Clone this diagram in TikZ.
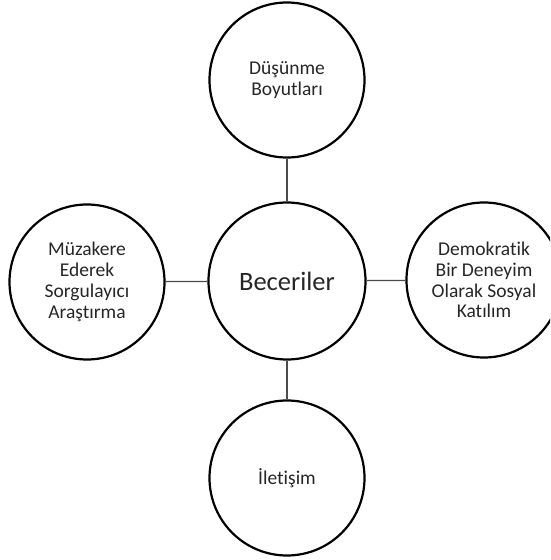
\documentclass[tikz,border=0pt]{standalone}
\usepackage{fontspec}
\setmainfont[RawFeature={-liga;-clig}]{Carlito}
\begin{document}
\begin{tikzpicture}[x=1pt,y=1pt,
  bubble/.style={circle,draw=black,line width=2.2pt,inner sep=0pt,minimum size=155pt,
    align=center,text=black!85,font=\fontsize{19.5}{20.8}\selectfont},
  hub/.style={bubble,minimum size=157pt,font=\fontsize{26.5}{30}\selectfont},
  link/.style={draw=black!70,line width=1.3pt}]
\useasboundingbox (0,0) rectangle (550,560);
\clip (0,0) rectangle (550,560);
\node[hub] (c) at (287,279) {Beceriler};
\node[bubble] (t) at (287,480) {Düşünme\\Boyutları};
\node[bubble] (b) at (287,82) {İletişim};
\node[bubble] (l) at (87,278) {Müzakere\\Ederek\\Sorgulayıcı\\Araştırma};
\node[bubble] (r) at (484,280) {Demokratik\\Bir Deneyim\\Olarak Sosyal\\Katılım};
\draw[link] (c) -- (t);
\draw[link] (c) -- (b);
\draw[link] (c) -- (l);
\draw[link] (c) -- (r);
\end{tikzpicture}
\end{document}
